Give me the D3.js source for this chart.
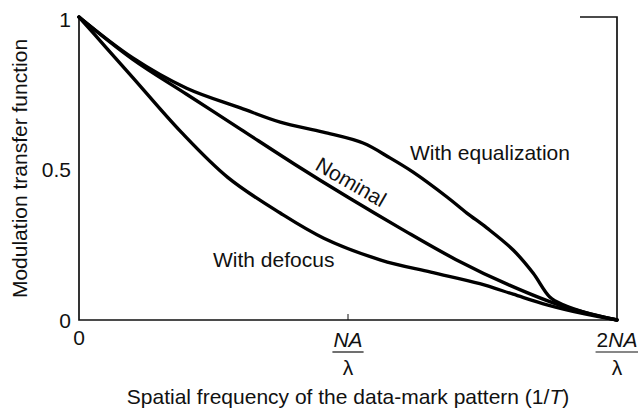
<!DOCTYPE html>
<html>
<head>
<meta charset="utf-8">
<script src="https://cdn.jsdelivr.net/npm/d3@7"></script>
<style>
  body { margin: 0; background: #fff; }
  text { font-family: "Liberation Sans", Arial, sans-serif; fill: #111; }
</style>
</head>
<body>
<div id="chart"></div>
<script>
// spatial frequency as a fraction of 2NA/lambda
const freq = [0, 0.1, 0.2, 0.3, 0.374, 0.454, 0.528, 0.578, 0.621, 0.684, 0.721, 0.758, 0.807, 0.844, 0.875, 0.9, 0.95, 1];
const equalization = [1, 0.865, 0.765, 0.70, 0.653, 0.620, 0.584, 0.535, 0.488, 0.406, 0.353, 0.304, 0.231, 0.155, 0.076, 0.050, 0.020, 0];
const nomFreq = [0, 0.1, 0.2, 0.3, 0.4, 0.5, 0.6, 0.7, 0.8, 0.9, 1];
const nominal = [1, 0.86, 0.745, 0.63, 0.515, 0.405, 0.30, 0.20, 0.115, 0.045, 0];
const defFreq = [0, 0.05, 0.1, 0.19, 0.277, 0.374, 0.455, 0.561, 0.654, 0.745, 0.807, 0.87, 0.94, 1];
const defocus = [1, 0.90, 0.80, 0.62, 0.47, 0.353, 0.27, 0.198, 0.158, 0.12, 0.085, 0.05, 0.02, 0];

const yTicks = [0, 0.5, 1];
const yTickLabels = ["0", "0.5", "1"];

const width = 638, height = 412;
const mLeft = 79, mRight = 617, mTop = 17, mBottom = 320;
const fs = "21px";

const svg = d3.select("#chart").append("svg")
    .attr("width", width).attr("height", height);

const x = d3.scaleLinear().domain([0, 1]).range([mLeft, mRight]);
const y = d3.scaleLinear().domain([0, 1]).range([mBottom, mTop]);

// axes frame: left, bottom, right, plus the short piece at top right
svg.append("path")
    .attr("d", `M${mLeft},${mTop}V${mBottom}H${mRight}V${mTop}H580`)
    .attr("fill", "none").attr("stroke", "#111").attr("stroke-width", 1.7);

// tick at NA
svg.append("line")
    .attr("x1", x(0.5)).attr("x2", x(0.5))
    .attr("y1", mBottom).attr("y2", mBottom - 6)
    .attr("stroke", "#111").attr("stroke-width", 1);

// y tick labels
svg.append("g").selectAll("text")
    .data(yTicks)
    .enter().append("text")
    .attr("x", mLeft - 8)
    .attr("y", d => d == 1 ? y(d) + 10 : y(d) + 8)
    .attr("text-anchor", "end")
    .style("font-size", fs)
    .text((d, i) => yTickLabels[i]);

// x tick labels
svg.append("text").attr("x", x(0)).attr("y", mBottom + 25)
    .attr("text-anchor", "middle").style("font-size", fs).text("0");

function fracLabel(xpos, prefix) {
    const g = svg.append("g").attr("transform", `translate(${xpos},0)`);
    const t = g.append("text").attr("x", 0).attr("y", mBottom + 27)
        .attr("text-anchor", "middle").style("font-size", fs);
    if (prefix) t.append("tspan").text(prefix);
    t.append("tspan").style("font-style", "italic").text("NA");
    const w = t.node().getComputedTextLength();
    g.append("line").attr("x1", -w / 2 - 1).attr("x2", w / 2 + 1)
        .attr("y1", mBottom + 32).attr("y2", mBottom + 32)
        .attr("stroke", "#111").attr("stroke-width", 1.2);
    g.append("text").attr("x", 0).attr("y", mBottom + 55)
        .attr("text-anchor", "middle").style("font-size", fs).text("λ");
}
fracLabel(x(0.5), "");
fracLabel(x(1), "2");

// axis titles
const xt = svg.append("text").attr("x", (mLeft + mRight) / 2).attr("y", 404)
    .attr("text-anchor", "middle").style("font-size", fs);
xt.append("tspan").text("Spatial frequency of the data-mark pattern (1/");
xt.append("tspan").style("font-style", "italic").text("T");
xt.append("tspan").text(")");

svg.append("text")
    .attr("transform", `translate(27,${(mTop + mBottom) / 2}) rotate(-90)`)
    .attr("text-anchor", "middle").style("font-size", fs)
    .text("Modulation transfer function");

// curves
const line = d3.line().curve(d3.curveCatmullRom.alpha(0.5))
    .x(d => x(d[0])).y(d => y(d[1]));

const series = [
    d3.zip(freq, equalization),
    d3.zip(nomFreq, nominal),
    d3.zip(defFreq, defocus)
];
svg.append("g").selectAll("path")
    .data(series)
    .enter().append("path")
    .attr("d", line)
    .attr("fill", "none").attr("stroke", "#000")
    .attr("stroke-width", 3.4).attr("stroke-linecap", "round");

// curve labels
svg.append("text").attr("x", 410).attr("y", 160).style("font-size", fs).text("With equalization");
svg.append("text").attr("x", 213).attr("y", 267).style("font-size", fs).text("With defocus");
svg.append("text").attr("transform", "translate(351,182) rotate(30)")
    .attr("text-anchor", "middle").attr("dy", "0.35em")
    .style("font-size", fs).text("Nominal");
</script>
</body>
</html>
